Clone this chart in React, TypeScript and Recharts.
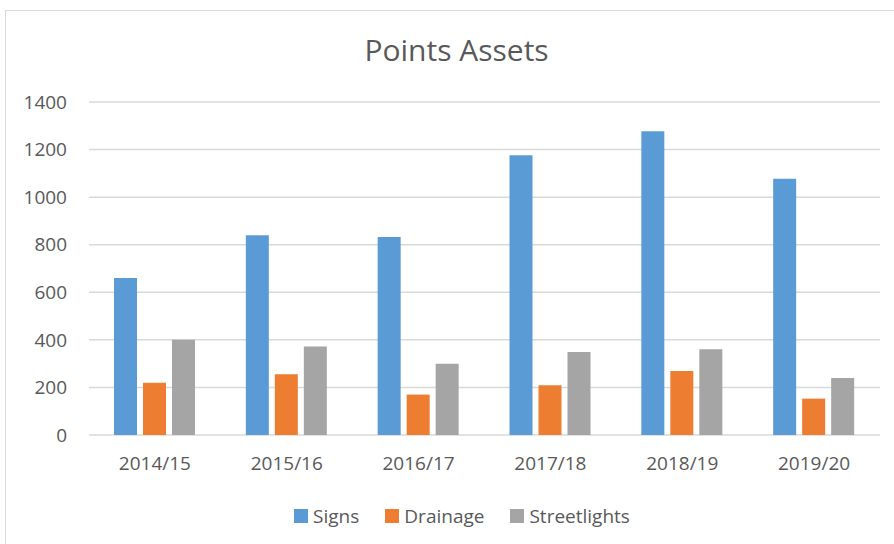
import React from 'react';
import { BarChart, Bar, XAxis, YAxis, CartesianGrid, Legend } from 'recharts';

const categories = ['2014/15', '2015/16', '2016/17', '2017/18', '2018/19', '2019/20'];
const signs = [660, 840, 832, 1176, 1277, 1077];
const drainage = [220, 255, 170, 209, 269, 153];
const streetlights = [400, 372, 300, 349, 361, 240];
const seriesNames = ['Signs', 'Drainage', 'Streetlights'];
const yTicks = [0, 200, 400, 600, 800, 1000, 1200, 1400];
const title = 'Points Assets';

const data = categories.map((c, i) => ({
  name: c,
  Signs: signs[i],
  Drainage: drainage[i],
  Streetlights: streetlights[i],
}));

const FONT = '"Open Sans", sans-serif';
const TXT = '#595959';

const LegendContent = (props: any) => {
  const payload = [...(props.payload || [])].sort(
    (a: any, b: any) => seriesNames.indexOf(a.value) - seriesNames.indexOf(b.value)
  );
  return (
    <div style={{ display: 'flex', justifyContent: 'center', alignItems: 'center', fontFamily: FONT, fontSize: 19, color: TXT, lineHeight: '26px' }}>
      {payload.map((p: any, i: number) => (
        <div key={i} style={{ display: 'flex', alignItems: 'center', marginRight: i < payload.length - 1 ? 26 : 0 }}>
          <span style={{ display: 'inline-block', width: 14, height: 14, background: p.color, marginRight: 5 }} />
          <span>{p.value}</span>
        </div>
      ))}
    </div>
  );
};

export default function App() {
  return (
    <div style={{ position: 'absolute', left: 0, top: 0, width: 894, height: 544, background: '#fff', overflow: 'hidden' }}>
      <div style={{ position: 'absolute', left: 5, top: 10, width: 920, height: 560, border: '1.5px solid #d9d9d9', boxSizing: 'border-box' }} />
      <div style={{ position: 'absolute', left: 0, top: 0 }}>
        <BarChart width={894} height={544} data={data} margin={{ top: 102, right: 14, left: 0, bottom: 0 }} barSize={23} barGap={6}>
          <text x={456.5} y={61} textAnchor="middle" style={{ fontFamily: FONT, fontSize: 30, fill: TXT }}>{title}</text>
          <CartesianGrid vertical={false} stroke="#d9d9d9" strokeWidth={1.5} />
          <XAxis dataKey="name" axisLine={false} tickLine={false} height={109} tickMargin={16} tick={{ fontFamily: FONT, fontSize: 19, fill: TXT }} />
          <YAxis domain={[0, 1400]} ticks={yTicks} axisLine={false} tickLine={false} width={89} tickMargin={16} tick={{ fontFamily: FONT, fontSize: 19, fill: TXT }} />
          <Legend layout="horizontal" verticalAlign="middle" align="center" content={LegendContent} wrapperStyle={{ top: 503, left: 15, width: 894 }} />
          <Bar dataKey="Signs" fill="#5B9BD5" isAnimationActive={false} />
          <Bar dataKey="Drainage" fill="#ED7D31" isAnimationActive={false} />
          <Bar dataKey="Streetlights" fill="#A5A5A5" isAnimationActive={false} />
        </BarChart>
      </div>
    </div>
  );
}
